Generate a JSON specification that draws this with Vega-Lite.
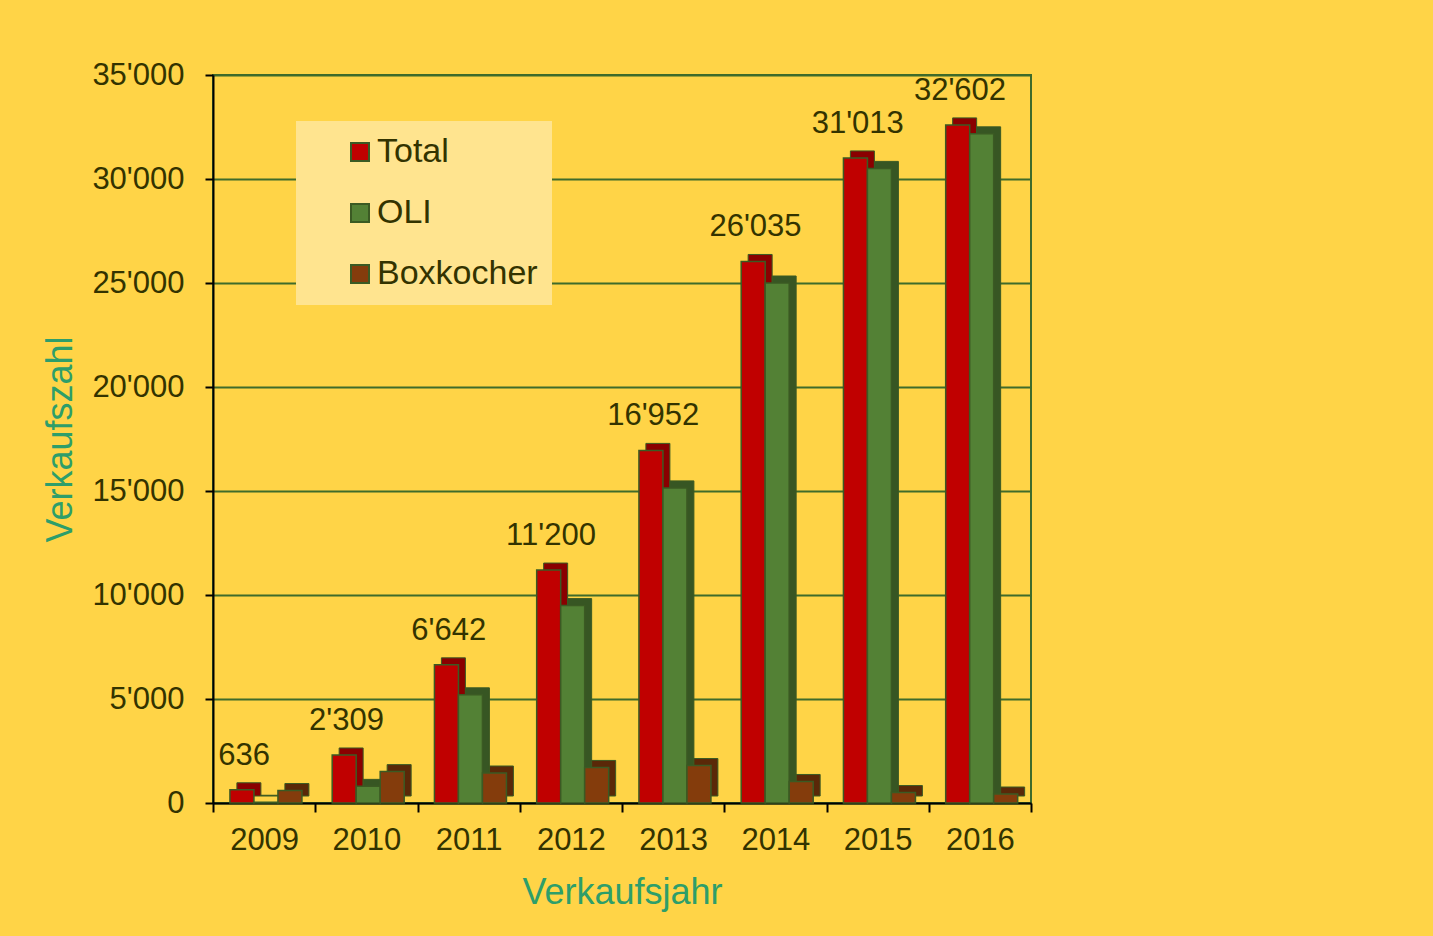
{
  "$schema": "https://vega.github.io/schema/vega-lite/v6.json",
  "width": 818,
  "height": 728,
  "autosize": "none",
  "padding": {"left": 213, "top": 75, "right": 402, "bottom": 133},
  "background": "#FFD447",
  "data": {"values": [
    {"year": "2009", "series": "Total", "value": 636},
    {"year": "2009", "series": "OLI", "value": 36},
    {"year": "2009", "series": "Boxkocher", "value": 600},
    {"year": "2010", "series": "Total", "value": 2309},
    {"year": "2010", "series": "OLI", "value": 800},
    {"year": "2010", "series": "Boxkocher", "value": 1509},
    {"year": "2011", "series": "Total", "value": 6642},
    {"year": "2011", "series": "OLI", "value": 5200},
    {"year": "2011", "series": "Boxkocher", "value": 1442},
    {"year": "2012", "series": "Total", "value": 11200},
    {"year": "2012", "series": "OLI", "value": 9490},
    {"year": "2012", "series": "Boxkocher", "value": 1710},
    {"year": "2013", "series": "Total", "value": 16952},
    {"year": "2013", "series": "OLI", "value": 15150},
    {"year": "2013", "series": "Boxkocher", "value": 1802},
    {"year": "2014", "series": "Total", "value": 26035},
    {"year": "2014", "series": "OLI", "value": 25000},
    {"year": "2014", "series": "Boxkocher", "value": 1035},
    {"year": "2015", "series": "Total", "value": 31013},
    {"year": "2015", "series": "OLI", "value": 30510},
    {"year": "2015", "series": "Boxkocher", "value": 503},
    {"year": "2016", "series": "Total", "value": 32602},
    {"year": "2016", "series": "OLI", "value": 32170},
    {"year": "2016", "series": "Boxkocher", "value": 432}
  ]},
  "encoding": {
    "x": {
      "field": "year", "type": "nominal",
      "scale": {"paddingInner": 0, "paddingOuter": 0},
      "axis": {
        "title": "Verkaufsjahr", "labelAngle": 0,
        "labelFont": "Liberation Sans", "labelFontSize": 31, "labelColor": "#333300",
        "labelPadding": 13,
        "titleFont": "Liberation Sans", "titleFontSize": 36, "titleFontWeight": "normal", "titleColor": "#2E9E6A",
        "titlePadding": 20,
        "domainColor": "#000000", "domainWidth": 2,
        "tickColor": "#000000", "tickWidth": 2, "tickSize": 9, "tickBand": "extent"
      }
    },
    "y": {
      "field": "value", "type": "quantitative",
      "scale": {"domain": [0, 35000], "nice": false},
      "axis": {
        "title": "Verkaufszahl", "values": [0, 5000, 10000, 15000, 20000, 25000, 30000, 35000],
        "format": ",d",
        "labelFont": "Liberation Sans", "labelFontSize": 31, "labelColor": "#333300",
        "labelPadding": 21,
        "titleFont": "Liberation Sans", "titleFontSize": 36, "titleFontWeight": "normal", "titleColor": "#2E9E6A",
        "titlePadding": 12,
        "domainColor": "#000000", "domainWidth": 2,
        "tickColor": "#000000", "tickWidth": 2, "tickSize": 8,
        "grid": true, "gridColor": "#3F6B2B", "gridWidth": 2
      }
    }
  },
  "layer": [
    {
      "mark": {"type": "bar", "stroke": "#3B5A23", "strokeWidth": 1, "yOffset": -7, "y2Offset": -7},
      "encoding": {
        "xOffset": {"field": "series", "type": "nominal", "sort": ["Total", "OLI", "Boxkocher"],
          "scale": {"domain": ["Total", "OLI", "Boxkocher"], "paddingOuter": 0.63, "paddingInner": 0, "align": 0.79}},
        "color": {
          "field": "series", "type": "nominal",
          "scale": {"domain": ["Total", "OLI", "Boxkocher"], "range": ["#8A0000", "#375623", "#5A2808"]},
          "legend": null
        }
      }
    },
    {
      "mark": {"type": "bar", "stroke": "#3B5A23", "strokeWidth": 1.5},
      "encoding": {
        "xOffset": {"field": "series", "type": "nominal", "sort": ["Total", "OLI", "Boxkocher"],
          "scale": {"domain": ["Total", "OLI", "Boxkocher"], "paddingOuter": 0.63, "paddingInner": 0, "align": 0.56}},
        "color": {
          "field": "series", "type": "nominal",
          "scale": {"domain": ["Total", "OLI", "Boxkocher"], "range": ["#C00000", "#538135", "#843C0C"]},
          "legend": {
            "title": null, "orient": "none", "legendX": 83, "legendY": 46,
            "fillColor": "#FFE48F", "padding": 14,
            "symbolType": "square", "symbolSize": 324, "symbolStrokeColor": "#3B5A23", "symbolStrokeWidth": 2,
            "symbolOffset": 33,
            "labelFont": "Liberation Sans", "labelFontSize": 34, "labelColor": "#333300", "labelOffset": 0,
            "labelLimit": 300,
            "rowPadding": 27
          }
        }
      }
    },
    {
      "transform": [{"filter": "datum.series === 'Total'"}],
      "mark": {"type": "text", "baseline": "bottom", "dy": -18, "font": "Liberation Sans", "fontSize": 31, "color": "#333300"},
      "encoding": {
        "xOffset": {"field": "series", "type": "nominal", "sort": ["Total", "OLI", "Boxkocher"],
          "scale": {"domain": ["Total", "OLI", "Boxkocher"], "paddingOuter": 0.63, "paddingInner": 0, "align": 0.79}},
        "text": {"field": "value", "type": "quantitative", "format": ",d"}
      }
    }
  ],
  "resolve": {"scale": {"color": "independent", "xOffset": "independent"}},
  "config": {
    "locale": {"number": {"decimal": ".", "thousands": "'", "grouping": [3], "currency": ["", ""]}},
    "view": {"stroke": "#3F6B2B", "strokeWidth": 2}
  }
}
